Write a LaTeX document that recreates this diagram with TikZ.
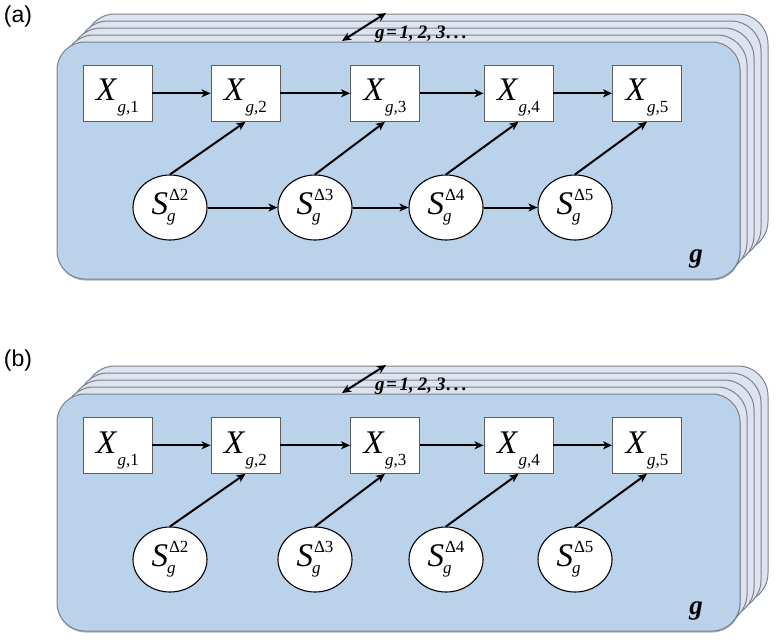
\documentclass[tikz,border=0pt]{standalone}
\usepackage{fontspec}
\setmainfont{Liberation Serif}
\newfontfamily\labfont{Liberation Sans}
\usetikzlibrary{arrows.meta,shapes.geometric,shadows}
\definecolor{frontblue}{HTML}{BAD2EA}
\definecolor{backblue}{HTML}{DDE4EF}
\definecolor{plateedge}{HTML}{7C828C}
\definecolor{boxedge}{HTML}{5A5F66}

\newcommand{\Xlab}[1]{\rule{0pt}{31pt}\fontsize{33}{33}\selectfont\textit{X}\raisebox{-12pt}{\fontsize{17}{17}\selectfont\kern0.5pt\textit{g},#1}}
\newcommand{\Slab}[1]{\fontsize{33}{33}\selectfont\textit{S}\makebox[0pt][l]{\raisebox{-7pt}{\kern-1pt\fontsize{17}{17}\selectfont\textit{g}}}\raisebox{14pt}{\fontsize{17}{17}\selectfont\kern1pt Δ#1}}

\tikzset{
  backplate/.style={fill=backblue, draw=plateedge, line width=1pt, rounded corners=30pt},
  frontplate/.style={fill=frontblue, draw=plateedge, line width=1pt, rounded corners=28pt,
    drop shadow={shadow xshift=0.5pt, shadow yshift=-1.5pt, opacity=0.3, fill=black}},
  xbox/.style={rectangle, draw=boxedge, line width=0.9pt, fill=white, minimum width=69pt, minimum height=56pt, inner sep=0pt},
  snode/.style={ellipse, draw=black, line width=1.1pt, fill=white, minimum width=74pt, minimum height=65pt, inner sep=0pt},
  arr/.style={line width=2pt, -{Stealth[length=9pt, width=8pt, inset=2.5pt]}},
  dblarr/.style={line width=2pt, {Stealth[length=9pt, width=8pt, inset=2.5pt]}-{Stealth[length=9pt, width=8pt, inset=2.5pt]}},
  rngtext/.style={font=\fontsize{19}{19}\selectfont\bfseries\itshape, inner sep=0pt},
  platelabel/.style={font=\fontsize{27}{27}\selectfont\bfseries\itshape, inner sep=0pt},
  panellabel/.style={font=\labfont\fontsize{23}{23}\selectfont, inner sep=0pt}
}

\newcommand{\drawpanel}[3]{%
 \begin{scope}[shift={(0,#2)}]
  \foreach \k in {4,3,2,1}
    \draw[backplate] ({57+7*\k},{42-7*\k}) rectangle ({740+7*\k},{279-7*\k});
  \draw[frontplate] (57,42) rectangle (740,279);
  \node[xbox] (#1X1) at (117.5,93.3) {\Xlab{1}};
  \node[xbox] (#1X2) at (245.5,93.3) {\Xlab{2}};
  \node[xbox] (#1X3) at (385,93.3) {\Xlab{3}};
  \node[xbox] (#1X4) at (518.5,93.3) {\Xlab{4}};
  \node[xbox] (#1X5) at (647,93.3) {\Xlab{5}};
  \node[snode] (#1S2) at (170,207.5) {\Slab{2}};
  \node[snode] (#1S3) at (315,207.5) {\Slab{3}};
  \node[snode] (#1S4) at (446,207.5) {\Slab{4}};
  \node[snode] (#1S5) at (575,207.5) {\Slab{5}};
  \foreach \i/\j in {1/2,2/3,3/4,4/5} \draw[arr] (#1X\i) -- (#1X\j);
  \foreach \j in {2,3,4,5} \draw[arr] (#1S\j.north) -- (#1X\j.south);
  \ifnum#3=1
    \foreach \i/\j in {2/3,3/4,4/5} \draw[arr] (#1S\i) -- (#1S\j);
  \fi
  \coordinate (#1p) at (342,41);
  \coordinate (#1q) at (386,13);
  \draw[dblarr] (#1p) -- (#1q);
  \node[rngtext, anchor=base west] (#1rng) at (375,38)
    {g\kern1.5pt=\kern2.5pt1,\kern4pt2,\kern4pt3\kern1pt.\kern3pt.\kern3pt.};
  \node[platelabel, anchor=base] (#1g) at (696,262) {g};
 \end{scope}}

\begin{document}
\begin{tikzpicture}[x=1pt,y=-1pt]
  \useasboundingbox[fill=white] (0,0) rectangle (778,641);
  \node[panellabel] (la) at (18,17) {(a)};
  \node[panellabel] (lb) at (18,361) {(b)};
  \drawpanel{a}{0}{1}
  \drawpanel{b}{352}{0}
\end{tikzpicture}
\end{document}
